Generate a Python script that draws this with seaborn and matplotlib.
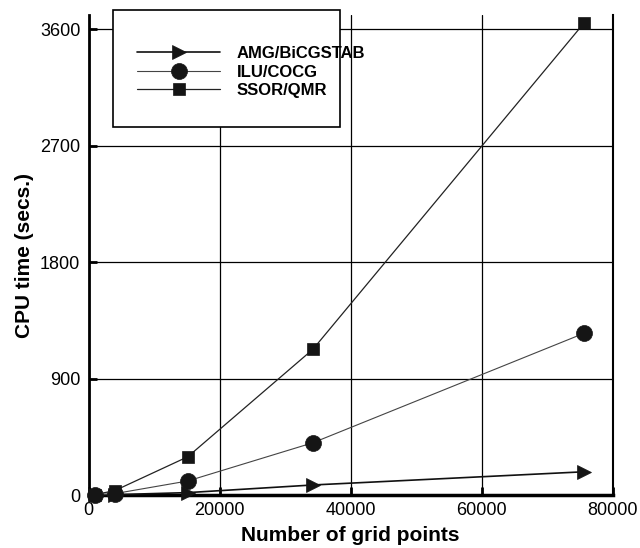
import numpy as np
import pandas as pd
import seaborn as sns
import matplotlib.pyplot as plt
from matplotlib.patches import Rectangle

# grid sizes (N^2 points) and CPU times
grid_points = [961, 3969, 15129, 34225, 75625]
amg_bicgstab = [1, 4, 20, 79, 181]
ilu_cocg = [2, 12, 110, 405, 1251]
ssor_qmr = [5, 35, 297, 1127, 3648]

labels = ['AMG/BiCGSTAB', 'ILU/COCG', 'SSOR/QMR']
x_ticks = [0, 20000, 40000, 60000, 80000]
y_ticks = [0, 900, 1800, 2700, 3600]

df = pd.DataFrame({
    'n': grid_points * 3,
    'cpu': amg_bicgstab + ilu_cocg + ssor_qmr,
    'method': np.repeat(labels, len(grid_points)),
})

sns.set_theme(style='white')
plt.rcParams['font.family'] = ['Liberation Sans', 'DejaVu Sans']
plt.rcParams['text.color'] = 'black'
plt.rcParams['axes.labelcolor'] = 'black'

fig = plt.figure(figsize=(6.4, 5.48), dpi=100)
ax = fig.add_axes([88.7 / 640, 1 - 495.2 / 548, 524 / 640, (495.2 - 15) / 548])

styles = {
    'AMG/BiCGSTAB': dict(marker='>', markersize=10, linewidth=1.2, color='#111111'),
    'ILU/COCG': dict(marker='o', markersize=11.5, linewidth=0.8, color='#444444'),
    'SSOR/QMR': dict(marker='s', markersize=8.5, linewidth=0.9, color='#222222'),
}

for m in labels:
    st = styles[m]
    sns.lineplot(data=df[df.method == m], x='n', y='cpu', ax=ax,
                 color=st['color'], linewidth=st['linewidth'],
                 marker=st['marker'], markersize=st['markersize'],
                 markerfacecolor='#151515', markeredgecolor='#151515',
                 markeredgewidth=0.5, label=m, zorder=3, clip_on=False)

ax.set_xlim(0, 80000)
ax.set_ylim(0, 3710)
ax.set_xticks(x_ticks)
ax.set_yticks(y_ticks)
ax.set_xticklabels([str(t) for t in x_ticks])
ax.set_yticklabels([str(t) for t in y_ticks])
ax.grid(True, color='black', linewidth=0.9)
ax.tick_params(direction='in', length=6, width=2, colors='black',
               labelsize=13, bottom=True, left=True)
ax.tick_params(axis='x', pad=5)
ax.tick_params(axis='y', pad=6)

ax.spines['top'].set_visible(False)
ax.spines['bottom'].set_linewidth(2.5)
ax.spines['left'].set_linewidth(2)
ax.spines['right'].set_linewidth(1.5)
for s in ['bottom', 'left', 'right']:
    ax.spines[s].set_color('black')

ax.set_xlabel('Number of grid points', fontsize=15, fontweight='bold', labelpad=5)
ax.set_ylabel('CPU time (secs.)', fontsize=15, fontweight='bold', labelpad=4)

# legend box
ax.add_patch(Rectangle((113 / 640, 1 - 127 / 548), 227 / 640, 117 / 548,
                       transform=fig.transFigure, facecolor='white',
                       edgecolor='black', linewidth=1.2, zorder=5, clip_on=False))
leg = ax.legend(loc='upper left', bbox_to_anchor=(122 / 640, 1 - 31 / 548),
                bbox_transform=fig.transFigure, frameon=False,
                handlelength=5, handletextpad=1.0, labelspacing=0.22,
                prop={'weight': 'bold', 'size': 12})
leg.set_zorder(6)

fig.savefig('out.png', dpi=100)
